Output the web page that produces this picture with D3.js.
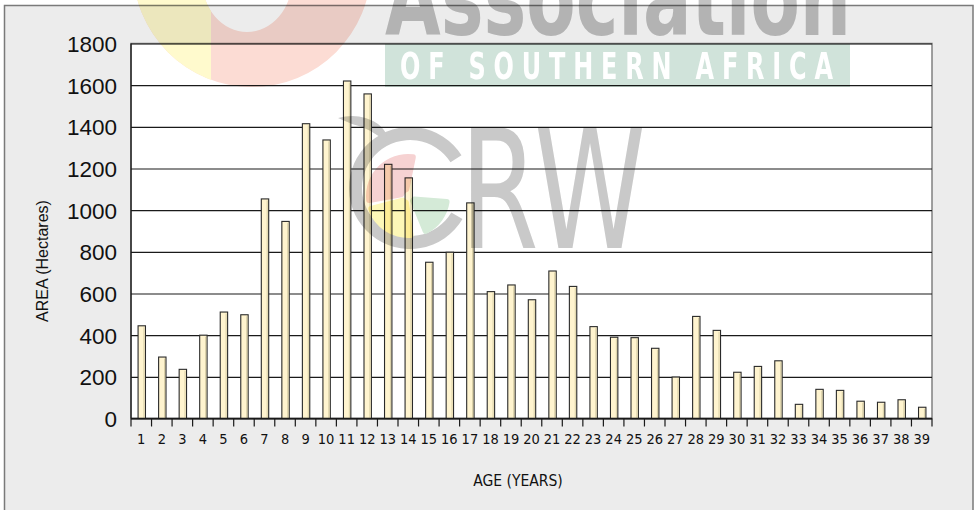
<!DOCTYPE html>
<html>
<head>
<meta charset="utf-8">
<script src="https://cdn.jsdelivr.net/npm/d3@7"></script>
<style>
  body { margin: 0; background: #fff; }
  svg { display: block; }
  .tick text { fill: #111; }
</style>
</head>
<body>
<div id="chart"></div>
<script>
// area planted by age class
const ages = d3.range(1, 40);
const areas = [445, 295, 236, 400, 511, 498, 1054, 946, 1415, 1337,
  1620, 1558, 1220, 1155, 750, 798, 1035, 609, 641, 570,
  708, 634, 441, 390, 388, 337, 199, 490, 423, 222,
  250, 277, 68, 140, 135, 83, 78, 90, 54];
const yTicks = [0, 200, 400, 600, 800, 1000, 1200, 1400, 1600, 1800];

const W = 979, H = 510;
const plot = { left: 131, right: 932, top: 43.5, bottom: 418.5 };

const svg = d3.select('#chart').append('svg')
  .attr('width', W)
  .attr('height', H);

// frame
svg.append('rect')
  .attr('x', 4.5).attr('y', 5.5)
  .attr('width', 968.5).attr('height', 520)
  .attr('fill', '#ececec')
  .attr('stroke', '#7a7a7a')
  .attr('stroke-width', 1.5);

svg.append('rect')
  .attr('x', plot.left).attr('y', plot.top)
  .attr('width', plot.right - plot.left)
  .attr('height', plot.bottom - plot.top)
  .attr('fill', '#fff')
  .attr('stroke', '#808080')
  .attr('stroke-width', 1.5);

const x = d3.scaleBand()
  .domain(ages)
  .range([plot.left, plot.right]);

const y = d3.scaleLinear()
  .domain([0, 1800])
  .range([plot.bottom, plot.top]);

// gridlines
svg.append('g')
  .attr('transform', `translate(${plot.left},0)`)
  .call(d3.axisLeft(y).tickValues(yTicks).tickSize(-(plot.right - plot.left)).tickFormat(''))
  .call(g => g.select('.domain').remove())
  .call(g => g.selectAll('.tick line').attr('stroke', '#1a1a1a').attr('stroke-width', 1.2));

// y labels
svg.append('g')
  .attr('transform', `translate(${plot.left - 14},0)`)
  .call(d3.axisLeft(y).tickValues(yTicks).tickSize(0).tickPadding(0).tickFormat(d3.format('d')))
  .call(g => g.select('.domain').remove())
  .call(g => g.selectAll('text')
    .attr('font-family', '"Liberation Sans", Arial, sans-serif')
    .attr('font-size', 22.5)
    .attr('dy', '0.36em'));

// bars
const barW = x.bandwidth() * 0.36;
const bars = svg.append('g')
  .selectAll('g')
  .data(ages)
  .enter()
  .append('g');
bars.append('rect')
  .attr('x', d => x(d) + (x.bandwidth() - barW) / 2 + 0.5)
  .attr('y', (d, i) => y(areas[i]))
  .attr('width', barW)
  .attr('height', (d, i) => y(0) - y(areas[i]))
  .attr('fill', '#fff4cf')
  .attr('stroke', '#2a2a2a')
  .attr('stroke-width', 1.1);
// soft shade on the right edge
bars.append('line')
  .attr('x1', d => x(d) + (x.bandwidth() + barW) / 2 - 1)
  .attr('x2', d => x(d) + (x.bandwidth() + barW) / 2 - 1)
  .attr('y1', (d, i) => y(areas[i]) + 1.5)
  .attr('y2', plot.bottom)
  .attr('stroke', '#d9cfa6')
  .attr('stroke-width', 1);

// y axis line + baseline
svg.append('line')
  .attr('x1', plot.left).attr('x2', plot.left)
  .attr('y1', plot.top).attr('y2', plot.bottom)
  .attr('stroke', '#1a1a1a').attr('stroke-width', 1.3);
svg.append('line')
  .attr('x1', plot.left).attr('x2', plot.right)
  .attr('y1', plot.bottom).attr('y2', plot.bottom)
  .attr('stroke', '#1a1a1a').attr('stroke-width', 1.3);

// x ticks sit on the category boundaries
const bounds = ages.map(a => x(a)).concat([x(ages[ages.length - 1]) + x.bandwidth()]);
svg.append('g')
  .selectAll('line')
  .data(bounds)
  .enter()
  .append('line')
  .attr('x1', d => d).attr('x2', d => d)
  .attr('y1', plot.bottom).attr('y2', plot.bottom + 8)
  .attr('stroke', '#1a1a1a')
  .attr('stroke-width', 1.2);

svg.append('g')
  .attr('transform', `translate(0,${plot.bottom})`)
  .call(d3.axisBottom(x).tickSize(0).tickPadding(15))
  .call(g => g.select('.domain').remove())
  .call(g => g.selectAll('text')
    .attr('font-family', '"Liberation Sans Narrow", "DejaVu Sans Condensed", sans-serif')
    .attr('font-stretch', 'condensed')
    .attr('font-size', 14.5));

// axis titles
svg.append('text')
  .attr('x', 518).attr('y', 486)
  .attr('text-anchor', 'middle')
  .attr('font-family', '"Liberation Sans Narrow", "DejaVu Sans Condensed", sans-serif')
  .attr('font-size', 15.5)
  .attr('fill', '#111')
  .text('AGE (YEARS)');

svg.append('text')
  .attr('transform', 'translate(48,261) rotate(-90)')
  .attr('text-anchor', 'middle')
  .attr('font-family', '"Liberation Sans", Arial, sans-serif')
  .attr('font-size', 16)
  .attr('fill', '#111')
  .text('AREA (Hectares)');

// watermark, laid over the chart
const wm = svg.append('g').style('mix-blend-mode', 'multiply');
const defs = svg.append('defs');

// big ring top left: outer circle minus an egg shaped hole
const ringPath = 'M371,-32 A119,119 0 1,1 133,-32 A119,119 0 1,1 371,-32 Z ' +
  'M292,-20 A45,52 0 1,0 202,-20 A45,52 0 1,0 292,-20 Z';
defs.append('clipPath').attr('id', 'left-half')
  .append('rect').attr('x', 0).attr('y', -200).attr('width', 211).attr('height', 400);
wm.append('path')
  .attr('d', ringPath)
  .attr('fill-rule', 'evenodd')
  .attr('fill', '#fcdcd4');
wm.append('path')
  .attr('d', ringPath)
  .attr('fill-rule', 'evenodd')
  .attr('clip-path', 'url(#left-half)')
  .attr('fill', '#fffacd');

wm.append('text')
  .attr('x', 385).attr('y', 35)
  .attr('textLength', 466)
  .attr('lengthAdjust', 'spacingAndGlyphs')
  .attr('font-family', '"DejaVu Sans Condensed", "DejaVu Sans", sans-serif')
  .attr('font-weight', 'bold')
  .attr('font-size', 104)
  .attr('fill', '#c2c2c2')
  .text('Association');

wm.append('rect')
  .attr('x', 385).attr('y', 44)
  .attr('width', 465).attr('height', 43)
  .attr('fill', '#d0e3da');

const sx = 0.72;
svg.append('text')
  .attr('transform', `scale(${sx},1)`)
  .attr('x', 400 / sx).attr('y', 79)
  .attr('textLength', 433 / sx)
  .attr('lengthAdjust', 'spacing')
  .attr('font-family', '"DejaVu Sans Condensed", "DejaVu Sans", sans-serif')
  .attr('font-weight', 'bold')
  .attr('font-size', 37)
  .attr('fill', '#fff')
  .text('OF SOUTHERN AFRICA');

// CRW mark
const cx = 410, cy = 188;
wm.append('path')
  .attr('transform', `translate(${cx},${cy})`)
  .attr('d', d3.arc().innerRadius(48).outerRadius(61)({ startAngle: Math.PI * 0.67, endAngle: Math.PI * 2.32 }))
  .attr('fill', '#c9c9c9');
wm.append('path')
  .attr('d', 'M338,118 Q360,112 378,124 Q390,134 386,142 Q370,128 352,124 Z')
  .attr('fill', '#c9c9c9');

const pie = d3.arc().innerRadius(4).outerRadius(42).cornerRadius(3);
[
  { a0: -1.75, a1: 0.2, c: '#f6d2d2' },
  { a0: 1.65, a1: 2.75, c: '#d4ead7' },
  { a0: 3.0, a1: 4.45, c: '#fdf7b8' }
].forEach(s => {
  wm.append('path')
    .attr('transform', `translate(${cx - 2},${cy + 8})`)
    .attr('d', pie({ startAngle: s.a0, endAngle: s.a1 }))
    .attr('fill', s.c);
});

wm.append('text')
  .attr('x', 460).attr('y', 248)
  .attr('textLength', 186)
  .attr('lengthAdjust', 'spacingAndGlyphs')
  .attr('font-family', '"DejaVu Sans", sans-serif')
  .attr('font-size', 166)
  .attr('fill', '#c9c9c9')
  .text('RW');
</script>
</body>
</html>
